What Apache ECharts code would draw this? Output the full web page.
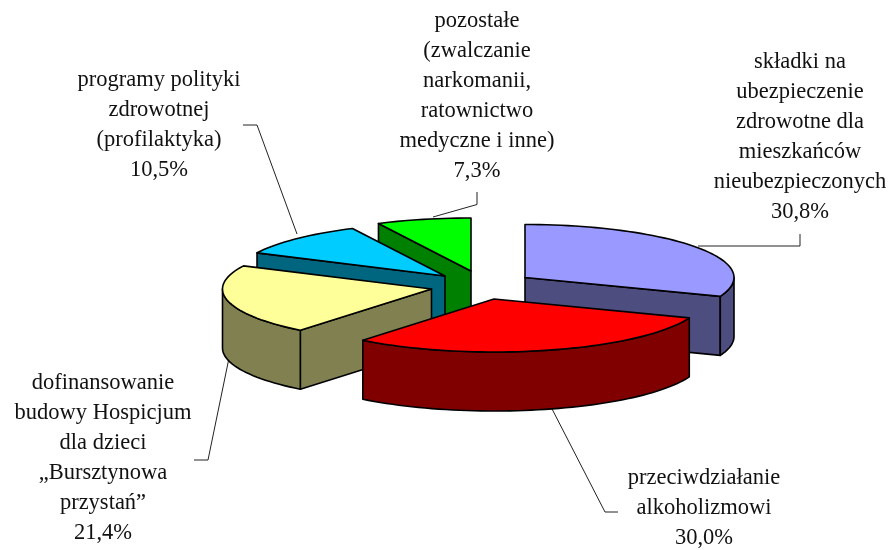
<!DOCTYPE html>
<html><head><meta charset="utf-8">
<style>html,body{margin:0;padding:0;background:#fff}#c{width:889px;height:550px}</style>
<script src="https://cdn.jsdelivr.net/npm/echarts@6/dist/echarts.min.js"></script>
</head><body><div id="c"></div>
<script>
// Data, clockwise from 12 o'clock
const labels = [
  "składki na\nubezpieczenie\nzdrowotne dla\nmieszkańców\nnieubezpieczonych",
  "przeciwdziałanie\nalkoholizmowi",
  "dofinansowanie\nbudowy Hospicjum\ndla dzieci\n„Bursztynowa\nprzystań”",
  "programy polityki\nzdrowotnej\n(profilaktyka)",
  "pozostałe\n(zwalczanie\nnarkomanii,\nratownictwo\nmedyczne i inne)"
];
const values = [30.8, 30.0, 21.4, 10.5, 7.3];

// Styling and layout
const topColors  = ["#9999ff", "#ff0000", "#ffff99", "#00ccff", "#00ff00"];
const wallColors = ["#4d4d80", "#800000", "#808050", "#006680", "#008000"];
const apexes = [[525,277.5],[494,299],[431.5,289],[445,276],[471,271]];
const drawRank = [4,5,3,2,1];
const labelPos = [[800,47],[704,463],[103,368],[159,65],[477,6]];
const leaders = [
  [[698,246],[800,246],[800,234]],
  [[550,405],[605,512],[618,512]],
  [[229,358],[208,460],[194,460]],
  [[297,234],[257,125],[243,125]],
  [[433,217],[477,204.5],[477,192]]
];
const RX = 209, RY = 53, DEPTH = 59, LW = 1.6;

function pt(c, deg, dy) {
  const a = deg * Math.PI / 180;
  return [c[0] + RX * Math.sin(a), c[1] - RY * Math.cos(a) + (dy || 0)];
}
function arc(c, from, to, dy) {
  const out = [], n = Math.max(2, Math.ceil((to - from) / 2));
  for (let i = 0; i <= n; i++) out.push(pt(c, from + (to - from) * i / n, dy));
  return out;
}
const fmt = v => v.toFixed(1).replace('.', ',') + '%';
const total = values.reduce((a, b) => a + b, 0);

function renderItem(params, api) {
  const i = params.dataIndex;
  let acc = 0;
  for (let k = 0; k < i; k++) acc += values[k];
  const a = acc / total * 360, b = a + api.value(0) / total * 360;
  const c = apexes[i], base = drawRank[i] * 10, kids = [];
  const poly = (points, fill, z) => kids.push({
    type: 'polygon', z2: base + z, shape: { points },
    style: { fill, stroke: '#000', lineWidth: LW, lineJoin: 'round' }
  });
  const bottomApex = [c[0], c[1] + DEPTH];
  // side walls that face the viewer
  if (Math.sin(a * Math.PI / 180) < -1e-6)
    poly([c, pt(c, a), pt(c, a, DEPTH), bottomApex], wallColors[i], 1);
  if (Math.sin(b * Math.PI / 180) > 1e-6)
    poly([c, pt(c, b), pt(c, b, DEPTH), bottomApex], wallColors[i], 1);
  // outer rim, front half of the ellipse only
  const rf = Math.max(a, 90), rt = Math.min(b, 270);
  if (rt > rf)
    poly(arc(c, rf, rt, 0).concat(arc(c, rf, rt, DEPTH).reverse()), wallColors[i], 2);
  // top face
  poly([c].concat(arc(c, a, b, 0)), topColors[i], 3);
  // leader line and label
  kids.push({
    type: 'polyline', z2: 0, shape: { points: leaders[i] },
    style: { fill: null, stroke: '#222', lineWidth: 1 }
  });
  kids.push({
    type: 'text', z2: 100, x: labelPos[i][0], y: labelPos[i][1],
    style: {
      text: labels[i] + '\n' + fmt(api.value(0)),
      font: '22.5px "Liberation Serif"', lineHeight: 30,
      fill: '#111', align: 'center', verticalAlign: 'top'
    }
  });
  return { type: 'group', children: kids };
}

const chart = echarts.init(document.getElementById('c'), null, { renderer: 'canvas' });
chart.setOption({
  animation: false,
  backgroundColor: '#fff',
  series: [{
    type: 'custom',
    coordinateSystem: 'none',
    renderItem,
    silent: true,
    data: values.map(v => [v])
  }]
});
</script></body></html>
